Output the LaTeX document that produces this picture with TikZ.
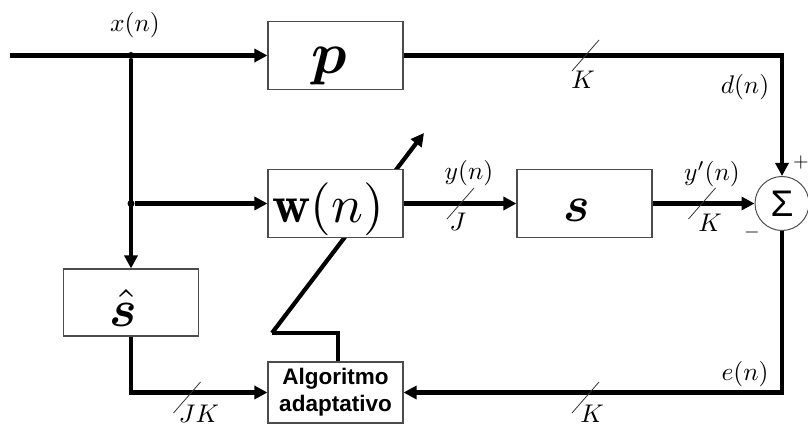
\documentclass[tikz,border=0pt]{standalone}
\usepackage{amsmath,bm}
\usepackage{graphicx}
\usepackage{fontspec}
\newfontfamily\algfont{Liberation Sans}
\usetikzlibrary{arrows.meta}

% math label, enlarged from the 10pt design size
\newcommand{\mlbl}[1]{\scalebox{2.55}{$#1$}}

\tikzset{
  blk/.style={draw=black!70, line width=1.1pt, fill=white,
              minimum width=135pt, minimum height=68pt, inner sep=0pt},
  sig/.style={line width=4.6pt, -{Triangle[length=13pt,width=13pt]}},
  wire/.style={line width=4.6pt},
  adj/.style={line width=4.2pt, -{Triangle[length=13pt,width=13pt]}},
  bus/.style={line width=0.8pt, black!80},
  lbl/.style={inner sep=0pt},
  bigtxt/.style={inner sep=0pt},
  dot/.style={circle, fill=black, inner sep=0pt, minimum size=7pt},
}

\begin{document}
\begin{tikzpicture}[x=1pt, y=-1pt]
\useasboundingbox (0,0) rectangle (808,427);

% adaptation arrow across the filter (drawn first, the filter box hides its middle)
\coordinate (zz) at (272,333);
\coordinate (ztop) at (338,333);
\coordinate (adjtip) at (424,133);
\draw[adj] (zz) -- (adjtip);

% blocks
\node[blk] (P) at (335.5,55.5) {};
\node[blk] (W) at (335.5,203.5) {};
\node[blk] (S) at (584.5,203.5) {};
\node[blk, minimum height=67pt] (Sh) at (131,302.5) {};
\node[blk, minimum height=61pt, align=center,
      font=\algfont\bfseries\fontsize{22.5}{27}\selectfont] (alg) at (335.5,392.5)
      {Algoritmo\\adaptativo};
\node[circle, draw=black!70, line width=1pt, minimum size=54pt, inner sep=0pt]
      (sum) at (782,203.5) {\scalebox{3.7}{\algfont Σ}};

% block contents
\node[bigtxt] (ptxt) at (329,66) {\scalebox{5.9}{$\bm{p}$}};
\node[bigtxt] (wtxt) at (328,209) {\scalebox{5.3}{$\mathbf{w}(n)$}};
\node[bigtxt] (stxt) at (577,210) {\scalebox{5.0}{$\bm{s}$}};
\node[bigtxt] (shtxt) at (123,308) {\scalebox{5.2}{$\hat{\bm{s}}$}};

% junctions
\coordinate (in) at (10,55.5);
\node[dot] (j1) at (131,55.5) {};
\node[dot] (j2) at (131,203.5) {};

% signal paths
\draw[sig] (in) -- (P.west);
\draw[sig] (P.east) -| (sum.north);
\draw[sig] (j1) -- (Sh.north);
\draw[sig] (j2) -- (W.west);
\draw[sig] (W.east) -- (S.west);
\draw[sig] (S.east) -- (sum.west);
\draw[sig] (sum.south) |- (alg.east);
\draw[sig] (Sh.south) |- (alg.west);
\draw[wire] (zz) -- (ztop) -- (ztop |- alg.north);

% bus width marks
\draw[bus] (585.5,55.5) +(-13.5,15.5) -- +(13.5,-15.5);
\draw[bus] (460.5,203.5) +(-13.5,15.5) -- +(13.5,-15.5);
\draw[bus] (702,203.5) +(-13.5,15.5) -- +(13.5,-15.5);
\draw[bus] (585.5,397.5) +(-13.5,15.5) -- +(13.5,-15.5);
\draw[bus] (187,397.5) +(-13.5,15.5) -- +(13.5,-15.5);

% signal labels
\node[lbl] (lx) at (135,25) {\mlbl{x(n)}};
\node[lbl] (ld) at (745,87) {\mlbl{d(n)}};
\node[lbl] (ly) at (469,173) {\mlbl{y(n)}};
\node[lbl] (lyp) at (712,174) {\mlbl{y'(n)}};
\node[lbl] (le) at (745,374) {\mlbl{e(n)}};
\node[lbl] (k1) at (583,80) {\mlbl{K}};
\node[lbl] (kj) at (458,222) {\mlbl{J}};
\node[lbl] (k2) at (710,223) {\mlbl{K}};
\node[lbl] (k3) at (592,414) {\mlbl{K}};
\node[lbl] (kjk) at (199,414) {\mlbl{JK}};
\node[lbl] (plus) at (801,163) {\scalebox{2.0}{$+$}};
\node[lbl] (minus) at (752,233) {\scalebox{2.0}{$-$}};
\end{tikzpicture}
\end{document}
